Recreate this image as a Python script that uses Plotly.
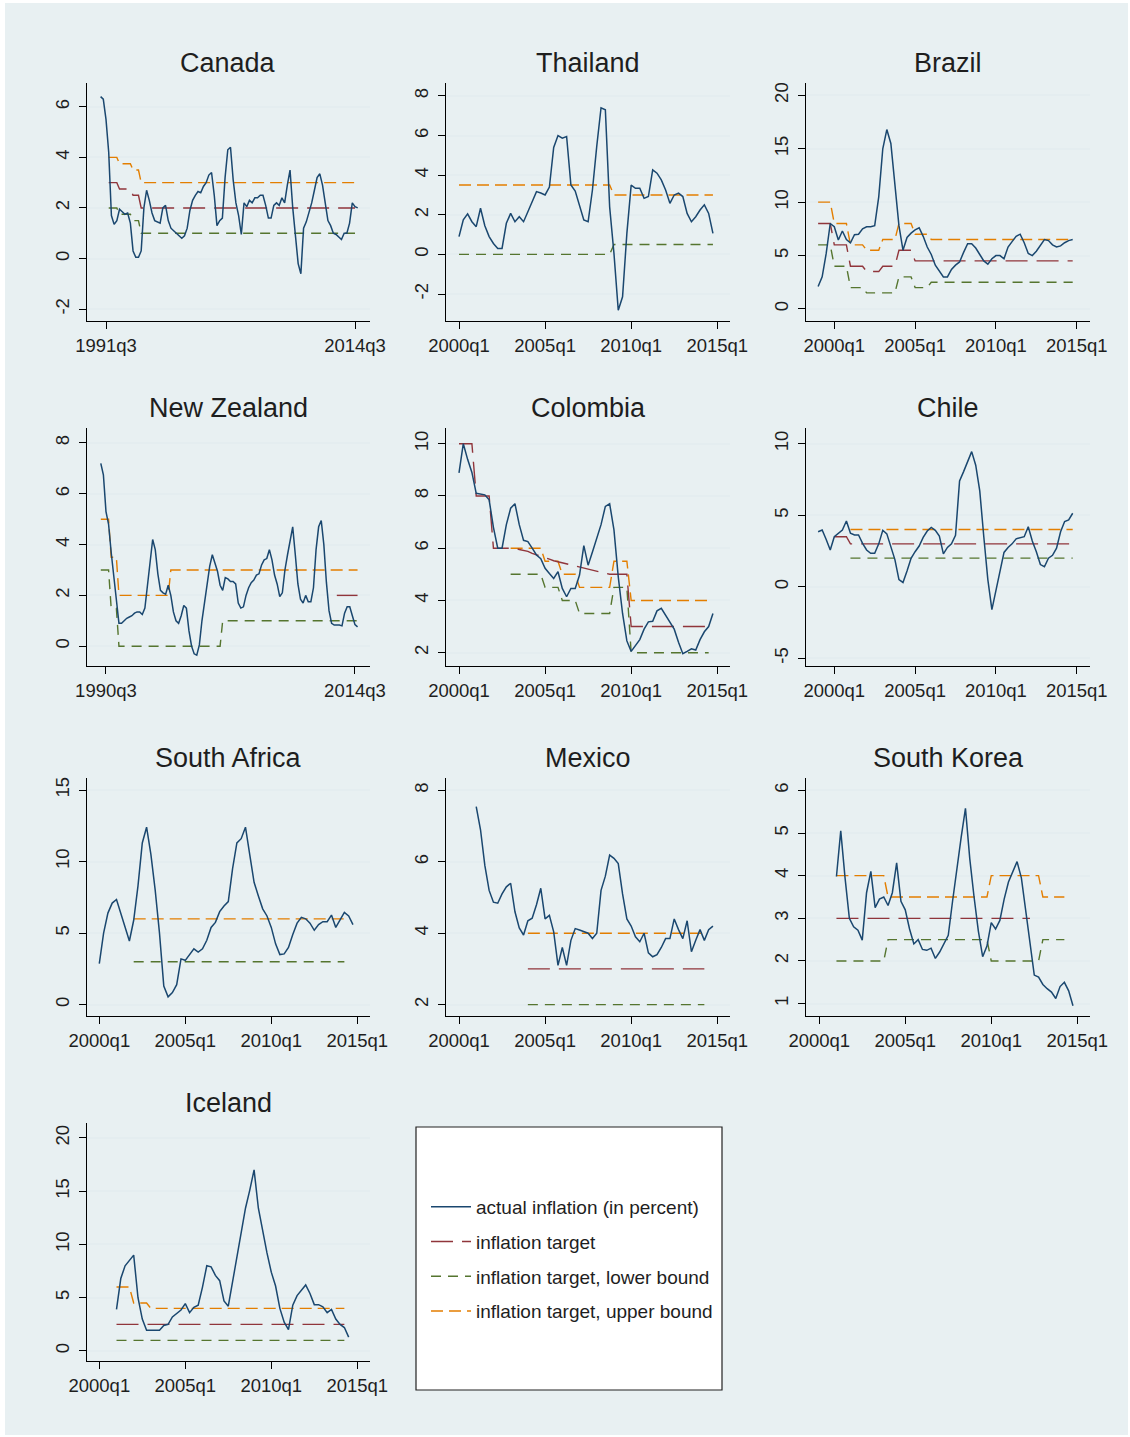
import plotly.graph_objects as go

W, H = 1130, 1437

# ---------------- data (quarterly, percent) ----------------
canada_start = "1991q1"
canada_actual = [6.4, 6.3, 5.5, 4.2, 1.7, 1.35, 1.5, 1.95, 1.85, 1.75, 1.8, 1.4, 0.3, 0.05, 0.05, 0.3,
                 2.0, 2.7, 2.3, 1.8, 1.5, 1.45, 1.4, 2.0, 2.1, 1.5, 1.2, 1.1, 1.0, 0.9, 0.8, 0.9,
                 1.2, 1.9, 2.3, 2.5, 2.65, 2.6, 2.85, 3.0, 3.3, 3.4, 2.5, 1.3, 1.5, 1.6, 3.2, 4.3,
                 4.4, 3.1, 2.2, 1.7, 0.95, 2.2, 2.05, 2.3, 2.2, 2.4, 2.4, 2.5, 2.5, 2.1, 1.6, 1.6,
                 2.1, 2.2, 2.1, 2.4, 2.2, 2.9, 3.5, 2.0, 0.8, -0.2, -0.6, 1.2, 1.45, 1.8, 2.2, 2.7,
                 3.2, 3.35, 2.9, 2.2, 1.5, 1.3, 1.0, 0.95, 0.85, 0.75, 1.0, 1.0, 1.4, 2.2, 2.05, 2.0]
canada_target = [("1991q4", "1992q3", 3.0), ("1992q4", "1993q4", 2.75), ("1994q1", "1994q3", 2.5), ("1994q4", "2014q3", 2.0)]
canada_lower = [("1991q4", "1992q3", 2.0), ("1992q4", "1993q4", 1.75), ("1994q1", "1994q3", 1.5), ("1994q4", "2014q3", 1.0)]
canada_upper = [("1991q4", "1992q3", 4.0), ("1992q4", "1993q4", 3.75), ("1994q1", "1994q3", 3.5), ("1994q4", "2014q3", 3.0)]

thailand_start = "2000q1"
thailand_actual = [0.9, 1.75, 2.05, 1.65, 1.4, 2.33, 1.45, 0.9, 0.55, 0.3, 0.3, 1.57, 2.07, 1.65, 1.9, 1.65,
                   2.15, 2.66, 3.17, 3.1, 3.0, 3.4, 5.4, 6.0, 5.87, 5.95, 3.5, 3.2, 2.4, 1.74, 1.65, 3.25,
                   5.45, 7.4, 7.3, 2.4, 0.05, -2.82, -2.14, 1.06, 3.5, 3.34, 3.34, 2.83, 2.92, 4.27, 4.1, 3.76,
                   3.25, 2.58, 3.0, 3.09, 2.92, 2.07, 1.65, 1.9, 2.24, 2.5, 2.07, 1.06]
thailand_target = []
thailand_lower = [("2000q1", "2008q4", 0.0), ("2009q1", "2014q4", 0.5)]
thailand_upper = [("2000q1", "2008q4", 3.5), ("2009q1", "2014q4", 3.0)]

brazil_start = "1999q1"
brazil_actual = [2.1, 3.0, 5.2, 8.0, 7.7, 6.45, 7.3, 6.5, 6.2, 6.95, 7.0, 7.5, 7.7, 7.7, 7.8, 10.5,
                 15.0, 16.8, 15.5, 11.5, 7.8, 5.5, 6.7, 7.1, 7.4, 7.6, 6.8, 5.8, 5.1, 4.1, 3.5, 3.0,
                 3.0, 3.7, 4.1, 4.4, 5.3, 6.1, 6.1, 5.7, 5.1, 4.5, 4.2, 4.7, 5.0, 5.0, 4.7, 5.8,
                 6.3, 6.8, 7.0, 6.2, 5.2, 5.0, 5.4, 6.0, 6.5, 6.4, 6.0, 5.8, 5.9, 6.2, 6.4, 6.5]
brazil_target = [("1999q1", "1999q4", 8.0), ("2000q1", "2000q4", 6.0), ("2001q1", "2001q4", 4.0),
                 ("2002q1", "2002q4", 3.5), ("2003q1", "2003q4", 4.0), ("2004q1", "2004q4", 5.5),
                 ("2005q1", "2014q4", 4.5)]
brazil_lower = [("1999q1", "1999q4", 6.0), ("2000q1", "2000q4", 4.0), ("2001q1", "2001q4", 2.0),
                ("2002q1", "2003q4", 1.5), ("2004q1", "2004q4", 3.0), ("2005q1", "2005q4", 2.0),
                ("2006q1", "2014q4", 2.5)]
brazil_upper = [("1999q1", "1999q4", 10.0), ("2000q1", "2000q4", 8.0), ("2001q1", "2001q4", 6.0),
                ("2002q1", "2002q4", 5.5), ("2003q1", "2003q4", 6.5), ("2004q1", "2004q4", 8.0),
                ("2005q1", "2005q4", 7.0), ("2006q1", "2014q4", 6.5)]

nz_start = "1990q1"
nz_actual = [7.2, 6.75, 5.3, 4.8, 3.7, 2.8, 1.85, 0.9, 0.9, 1.0, 1.1, 1.15, 1.2, 1.3, 1.35, 1.35,
             1.25, 1.5, 2.4, 3.5, 4.2, 3.8, 2.85, 2.2, 2.1, 2.05, 2.4, 2.0, 1.35, 1.0, 0.9, 1.2,
             1.6, 1.5, 0.6, 0.0, -0.3, -0.35, 0.05, 1.0, 1.7, 2.5, 3.15, 3.6, 3.3, 2.95, 2.4, 2.2,
             2.7, 2.65, 2.55, 2.55, 2.45, 1.7, 1.5, 1.55, 2.0, 2.3, 2.5, 2.6, 2.8, 2.85, 3.2, 3.4,
             3.45, 3.8, 3.4, 2.8, 2.45, 1.95, 2.1, 3.0, 3.6, 4.1, 4.7, 3.6, 2.45, 1.85, 1.7, 2.0,
             1.75, 1.75, 2.3, 3.8, 4.7, 4.95, 4.0, 2.5, 1.4, 0.9, 0.83, 0.83, 0.83, 0.8, 1.3, 1.55,
             1.55, 1.2, 0.85, 0.76]
nz_target = [("2012q4", "2014q4", 2.0)]
nz_lower = [("1990q1", "1990q4", 3.0), ("1991q1", "1991q3", 1.5), ("1991q4", "2001q3", 0.0), ("2001q4", "2014q4", 1.0)]
nz_upper = [("1990q1", "1990q4", 5.0), ("1991q1", "1991q3", 3.5), ("1991q4", "1996q3", 2.0), ("1996q4", "2014q4", 3.0)]

colombia_start = "2000q1"
colombia_actual = [8.88, 10.0, 9.4, 8.9, 8.1, 8.07, 8.04, 7.85, 6.8, 6.0, 6.0, 6.9, 7.53, 7.7, 6.9, 6.3,
                   6.25, 6.0, 5.74, 5.6, 5.23, 5.03, 4.84, 5.1, 4.46, 4.14, 4.46, 4.46, 4.97, 6.1, 5.35, 5.85,
                   6.38, 6.9, 7.6, 7.7, 6.7, 4.9, 3.5, 2.45, 2.05, 2.3, 2.5, 2.9, 3.18, 3.2, 3.6, 3.7,
                   3.45, 3.2, 2.9, 2.4, 1.96, 2.05, 2.15, 2.1, 2.5, 2.8, 3.0, 3.5]
colombia_target_start = "2000q1"
colombia_target_q = [10.0, 10.0, 10.0, 10.0, 8.0, 8.0, 8.0, 8.0, 6.0, 6.0, 6.0, 6.0, 6.0, 6.0, 5.95, 5.92,
                     5.88, 5.8, 5.75, 5.7, 5.65, 5.58, 5.52, 5.48, 5.43, 5.38, 5.35, 5.32, 5.28, 5.24, 5.2, 5.15,
                     5.1, 5.07, 5.04, 5.0, 5.0, 5.0, 5.0, 5.0, 3.0, 3.0, 3.0, 3.0, 3.0, 3.0, 3.0, 3.0,
                     3.0, 3.0, 3.0, 3.0, 3.0, 3.0, 3.0, 3.0, 3.0, 3.0, 3.0]
colombia_lower = [("2003q1", "2004q4", 5.0), ("2005q1", "2005q4", 4.5), ("2006q1", "2006q4", 4.0),
                  ("2007q1", "2008q4", 3.5), ("2009q1", "2009q4", 4.5), ("2010q1", "2014q3", 2.0)]
colombia_upper = [("2003q1", "2004q4", 6.0), ("2005q1", "2005q4", 5.5), ("2006q1", "2006q4", 5.0),
                  ("2007q1", "2008q4", 4.5), ("2009q1", "2009q4", 5.5), ("2010q1", "2014q3", 4.0)]

chile_start = "1999q1"
chile_actual = [3.85, 3.97, 3.3, 2.57, 3.5, 3.74, 3.97, 4.6, 3.74, 3.62, 3.62, 3.04, 2.57, 2.34, 2.34, 3.0,
                3.95, 3.7, 2.85, 1.9, 0.5, 0.3, 1.1, 1.99, 2.45, 2.85, 3.45, 3.9, 4.15, 3.95, 3.55, 2.3,
                2.75, 3.0, 3.6, 7.4, 8.05, 8.75, 9.45, 8.5, 6.7, 3.5, 0.5, -1.6, -0.3, 1.2, 2.4, 2.75,
                3.0, 3.35, 3.4, 3.5, 4.2, 3.2, 2.45, 1.55, 1.4, 2.0, 2.2, 2.7, 3.85, 4.56, 4.67, 5.14]
chile_target = [("2000q1", "2000q4", 3.5), ("2001q1", "2014q4", 3.0)]
chile_lower = [("2001q1", "2014q4", 2.0)]
chile_upper = [("2001q1", "2014q4", 4.0)]

safrica_start = "2000q1"
safrica_actual = [2.87, 5.0, 6.4, 7.1, 7.35, 6.4, 5.3, 4.45, 5.9, 8.3, 11.3, 12.4, 10.5, 8.0, 5.0, 1.3,
                  0.55, 0.85, 1.4, 3.2, 3.1, 3.5, 3.9, 3.67, 3.9, 4.5, 5.4, 5.75, 6.5, 6.9, 7.2, 9.5,
                  11.3, 11.6, 12.4, 10.47, 8.55, 7.6, 6.7, 6.2, 5.4, 4.25, 3.5, 3.55, 4.0, 4.9, 5.7, 6.1,
                  6.0, 5.7, 5.2, 5.6, 5.8, 5.8, 6.26, 5.4, 5.9, 6.45, 6.2, 5.6]
safrica_target = []
safrica_lower = [("2002q1", "2014q2", 3.0)]
safrica_upper = [("2002q1", "2014q2", 6.0)]

mexico_start = "2001q1"
mexico_actual = [7.55, 6.9, 5.9, 5.2, 4.87, 4.84, 5.1, 5.3, 5.4, 4.6, 4.15, 3.95, 4.35, 4.42, 4.8, 5.26,
                 4.4, 4.5, 4.04, 3.1, 3.6, 3.1, 3.8, 4.13, 4.09, 4.05, 4.0, 3.85, 4.0, 5.2, 5.6, 6.19,
                 6.1, 5.95, 5.1, 4.4, 4.2, 3.9, 3.76, 4.0, 3.45, 3.34, 3.4, 3.6, 3.85, 3.85, 4.4, 4.1,
                 3.85, 4.35, 3.48, 3.8, 4.1, 3.8, 4.1, 4.2]
mexico_target = [("2004q1", "2014q2", 3.0)]
mexico_lower = [("2004q1", "2014q2", 2.0)]
mexico_upper = [("2004q1", "2014q2", 4.0)]

korea_start = "2001q1"
korea_actual = [3.98, 5.05, 3.95, 3.0, 2.8, 2.72, 2.49, 3.6, 4.1, 3.25, 3.45, 3.5, 3.3, 3.6, 4.3, 3.4,
                3.2, 2.75, 2.4, 2.5, 2.27, 2.25, 2.3, 2.06, 2.21, 2.4, 2.6, 3.4, 4.2, 4.9, 5.58, 4.4,
                3.5, 2.7, 2.1, 2.35, 2.9, 2.75, 2.95, 3.45, 3.85, 4.1, 4.33, 3.95, 3.2, 2.45, 1.67, 1.62,
                1.45, 1.35, 1.27, 1.12, 1.4, 1.5, 1.3, 0.95]
korea_target = [("2001q1", "2012q2", 3.0)]
korea_lower = [("2001q1", "2003q4", 2.0), ("2004q1", "2009q4", 2.5), ("2010q1", "2012q4", 2.0), ("2013q1", "2014q2", 2.5)]
korea_upper = [("2001q1", "2003q4", 4.0), ("2004q1", "2009q4", 3.5), ("2010q1", "2012q4", 4.0), ("2013q1", "2014q2", 3.5)]

iceland_start = "2001q1"
iceland_actual = [3.9, 6.8, 8.0, 8.5, 9.0, 5.0, 3.0, 1.95, 1.95, 2.0, 1.95, 2.4, 2.5, 3.2, 3.5, 3.85,
                  4.45, 3.6, 4.1, 4.3, 6.0, 8.0, 7.9, 7.1, 6.6, 4.7, 4.2, 6.6, 8.9, 11.3, 13.4, 15.1,
                  17.0, 13.4, 11.1, 9.2, 7.4, 6.1, 4.0, 2.7, 2.0, 4.3, 5.2, 5.7, 6.2, 5.4, 4.35, 4.35,
                  4.15, 3.6, 3.9, 3.0, 2.5, 2.2, 1.3]
iceland_target = [("2001q1", "2014q2", 2.5)]
iceland_lower = [("2001q1", "2014q2", 1.0)]
iceland_upper = [("2001q1", "2001q4", 6.0), ("2002q1", "2002q4", 4.5), ("2003q1", "2014q2", 4.0)]

std_xticks = ["2000q1", "2005q1", "2010q1", "2015q1"]

# ---------------- helpers ----------------
def q2t(s):
    y, q = s.split("q")
    return int(y) + (int(q) - 1) / 4.0


def quarterly(start, vals):
    t0 = q2t(start)
    return [t0 + i / 4.0 for i in range(len(vals))], list(vals)


def steps(segs):
    xs, ys = [], []
    for a, b, v in segs:
        ta, tb = q2t(a), q2t(b)
        n = int(round((tb - ta) * 4))
        for i in range(n + 1):
            xs.append(ta + i / 4.0)
            ys.append(v)
    return xs, ys


# panels: (title, actual series, target, lower, upper, x range, y range, y ticks, x ticks, col, row)
panels = [
    ("Canada", quarterly(canada_start, canada_actual), steps(canada_target), steps(canada_lower), steps(canada_upper),
     [1989.745, 2015.886], [-2.47, 6.94], [-2, 0, 2, 4, 6], ["1991q3", "2014q3"], 0, 0),
    ("Thailand", quarterly(thailand_start, thailand_actual), steps(thailand_target), steps(thailand_lower), steps(thailand_upper),
     [1999.245, 2015.74], [-3.36, 8.65], [-2, 0, 2, 4, 6, 8], std_xticks, 1, 0),
    ("Brazil", quarterly(brazil_start, brazil_actual), steps(brazil_target), steps(brazil_lower), steps(brazil_upper),
     [1998.25, 2015.82], [-1.13, 21.16], [0, 5, 10, 15, 20], std_xticks, 2, 0),
    ("New Zealand", quarterly(nz_start, nz_actual), steps(nz_target), steps(nz_lower), steps(nz_upper),
     [1988.67, 2015.95], [-0.78, 8.59], [0, 2, 4, 6, 8], ["1990q3", "2014q3"], 0, 1),
    ("Colombia", quarterly(colombia_start, colombia_actual), quarterly(colombia_target_start, colombia_target_q),
     steps(colombia_lower), steps(colombia_upper),
     [1999.245, 2015.74], [1.49, 10.6], [2, 4, 6, 8, 10], std_xticks, 1, 1),
    ("Chile", quarterly(chile_start, chile_actual), steps(chile_target), steps(chile_lower), steps(chile_upper),
     [1998.25, 2015.82], [-5.54, 11.1], [-5, 0, 5, 10], std_xticks, 2, 1),
    ("South Africa", quarterly(safrica_start, safrica_actual), steps(safrica_target), steps(safrica_lower), steps(safrica_upper),
     [1999.285, 2015.74], [-0.79, 15.84], [0, 5, 10, 15], std_xticks, 0, 2),
    ("Mexico", quarterly(mexico_start, mexico_actual), steps(mexico_target), steps(mexico_lower), steps(mexico_upper),
     [1999.245, 2015.74], [1.68, 8.35], [2, 4, 6, 8], std_xticks, 1, 2),
    ("South Korea", quarterly(korea_start, korea_actual), steps(korea_target), steps(korea_lower), steps(korea_upper),
     [1999.23, 2015.74], [0.71, 6.29], [1, 2, 3, 4, 5, 6], std_xticks, 2, 2),
    ("Iceland", quarterly(iceland_start, iceland_actual), steps(iceland_target), steps(iceland_lower), steps(iceland_upper),
     [1999.285, 2015.74], [-0.94, 21.4], [0, 5, 10, 15, 20], std_xticks, 0, 3),
]

# ---------------- layout geometry (pixels) ----------------
COLS = [(87, 370), (446, 730), (806, 1090)]
ROWS = [(83, 321), (428, 666), (778, 1016), (1123, 1361)]

FONT = "Liberation Sans, Arial, Helvetica, sans-serif"
NAVY = "#1a476f"
MAROON = "#90353b"
GREEN = "#55752f"
ORANGE = "#e37e00"
BG = "#e8f0f2"
GRID = "#e4edf0"
TXT = "#1e1e1e"

names = ["actual inflation (in percent)", "inflation target",
         "inflation target, lower bound", "inflation target, upper bound"]
styles = [dict(color=NAVY, width=1.5, dash="solid"),
          dict(color=MAROON, width=1.4, dash="22px,9px"),
          dict(color=GREEN, width=1.4, dash="10px,7px"),
          dict(color=ORANGE, width=1.4, dash="12px,6px")]

fig = go.Figure()
layout = dict(
    width=W, height=H, margin=dict(l=0, r=0, t=0, b=0, pad=0, autoexpand=False),
    paper_bgcolor="white", plot_bgcolor="white",
    font=dict(family=FONT, size=18, color=TXT),
    showlegend=True,
    shapes=[], annotations=[],
)

# bluish graph region
layout["shapes"].append(dict(type="rect", xref="paper", yref="paper", x0=5 / W, x1=1128 / W,
                             y0=1 - 1435 / H, y1=1 - 3 / H, fillcolor=BG, line=dict(width=0), layer="below"))

for i, (title, act, tgt, low, upp, xr, yr, yt, xt, c, r) in enumerate(panels):
    n = i + 1
    xa = "x" if n == 1 else f"x{n}"
    ya = "y" if n == 1 else f"y{n}"
    x0, x1 = COLS[c]
    y0, y1 = ROWS[r]
    series = [act, tgt, low, upp]
    draw_order = [2, 3, 1, 0]
    for k in draw_order:
        xs, ys = series[k]
        if not xs:
            continue
        fig.add_trace(go.Scatter(
            x=xs, y=ys, mode="lines", name=names[k], line=styles[k],
            xaxis=xa, yaxis=ya, legendgroup=names[k], legendrank=k + 1,
            showlegend=(n == 1), hoverinfo="skip"))
    xkey = "xaxis" if n == 1 else f"xaxis{n}"
    ykey = "yaxis" if n == 1 else f"yaxis{n}"
    layout[xkey] = dict(
        domain=[x0 / W, x1 / W], anchor=ya, range=xr, automargin=False,
        tickmode="array", tickvals=[q2t(s) for s in xt], ticktext=xt,
        ticks="outside", ticklen=7, tickwidth=1, tickcolor="black",
        showline=True, linecolor="black", linewidth=1.2,
        showgrid=False, zeroline=False, fixedrange=True,
        tickfont=dict(size=18.5, color=TXT), ticklabelstandoff=1)
    layout[ykey] = dict(
        domain=[1 - y1 / H, 1 - y0 / H], anchor=xa, range=yr, automargin=False,
        tickmode="array", tickvals=yt, ticktext=[str(v) for v in yt],
        ticks="outside", ticklen=7, tickwidth=1, tickcolor="black",
        showline=True, linecolor="black", linewidth=1.2,
        showgrid=True, gridcolor=GRID, gridwidth=1.5, zeroline=False, fixedrange=True,
        tickangle=-90, tickfont=dict(size=18.5, color=TXT), ticklabelstandoff=3)
    layout["annotations"].append(dict(
        text=title, xref="paper", yref="paper", x=(x0 + x1) / 2 / W, y=1 - (y0 - 20) / H,
        xanchor="center", yanchor="middle", showarrow=False,
        font=dict(size=27, color=TXT, family=FONT)))

# legend box
layout["shapes"].append(dict(type="rect", xref="paper", yref="paper", x0=416 / W, x1=722 / W,
                             y0=1 - 1390 / H, y1=1 - 1127 / H, fillcolor="white",
                             line=dict(color="#222222", width=1.2), layer="below"))
layout["legend"] = dict(
    x=426 / W, y=1 - 1188 / H, xanchor="left", yanchor="top",
    bgcolor="rgba(0,0,0,0)", borderwidth=0,
    font=dict(size=19, color=TXT, family=FONT),
    traceorder="grouped", tracegroupgap=7, itemwidth=40, itemclick=False, itemdoubleclick=False)

fig.update_layout(**layout)
fig.write_html("out.html", config={"displayModeBar": False},
               post_script="document.body.style.margin='0px';document.body.style.overflow='hidden';")
